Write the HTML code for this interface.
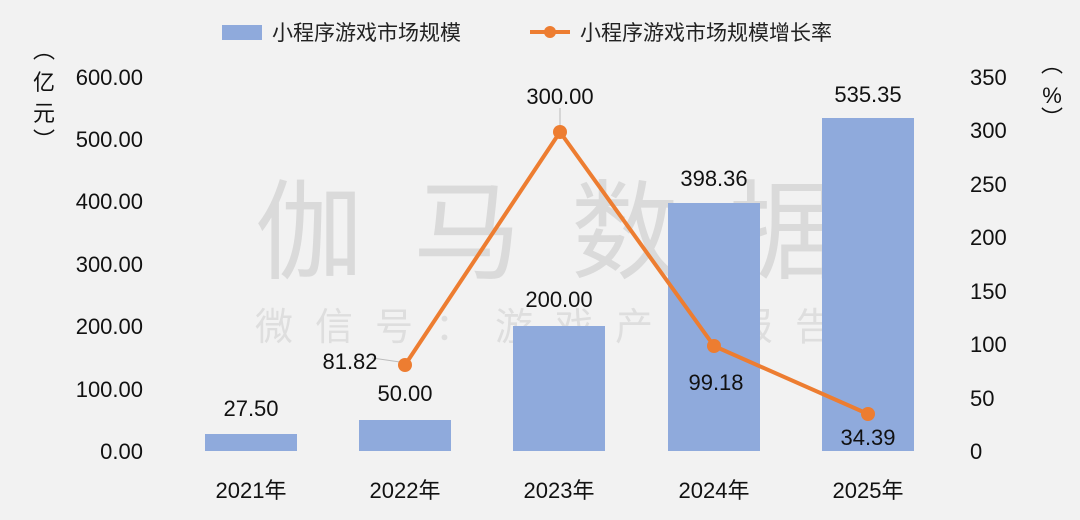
<!DOCTYPE html>
<html><head><meta charset="utf-8"><style>
html,body{margin:0;padding:0;background:#f2f2f2;}
svg{display:block;font-family:"Liberation Sans","Noto Sans CJK SC",sans-serif;}
</style></head><body>
<svg width="1080" height="520" viewBox="0 0 1080 520">
<rect width="1080" height="520" fill="#f2f2f2"/>
<!-- watermark -->
<text x="255" y="270" font-size="108" fill="#dadada" letter-spacing="50">伽马数据</text>
<text x="255" y="340" font-size="38" fill="#dedede" letter-spacing="22">微信号：游戏产业报告</text>
<!-- legend -->
<rect x="222" y="25" width="40" height="15" fill="#8faadc"/>
<text x="272" y="40" font-size="21" fill="#222">小程序游戏市场规模</text>
<line x1="530" y1="32" x2="570" y2="32" stroke="#ed7d31" stroke-width="4"/>
<circle cx="550" cy="32" r="6" fill="#ed7d31"/>
<text x="580" y="40" font-size="21" fill="#222">小程序游戏市场规模增长率</text>
<!-- left axis -->
<g font-size="22" fill="#111" text-anchor="end">
<text x="143" y="85">600.00</text>
<text x="143" y="147">500.00</text>
<text x="143" y="209">400.00</text>
<text x="143" y="272">300.00</text>
<text x="143" y="334">200.00</text>
<text x="143" y="397">100.00</text>
<text x="143" y="459">0.00</text>
</g>
<g font-size="22" fill="#111" text-anchor="middle">
<text x="44" y="58">︵</text>
<text x="44" y="90">亿</text>
<text x="44" y="121">元</text>
<text x="44" y="148">︶</text>
<text x="1052" y="72">︵</text>
<text x="1052" y="103">%</text>
<text x="1052" y="126">︶</text>
</g>
<!-- right axis -->
<g font-size="22" fill="#111" text-anchor="start">
<text x="970" y="85">350</text>
<text x="970" y="138">300</text>
<text x="970" y="192">250</text>
<text x="970" y="245">200</text>
<text x="970" y="299">150</text>
<text x="970" y="352">100</text>
<text x="970" y="406">50</text>
<text x="970" y="459">0</text>
</g>
<!-- bars -->
<g fill="#8faadc">
<rect x="205" y="434" width="92" height="17"/>
<rect x="359" y="420" width="92" height="31"/>
<rect x="513" y="326" width="92" height="125"/>
<rect x="668" y="203" width="92" height="248"/>
<rect x="822" y="118" width="92" height="333"/>
</g>
<!-- x labels -->
<g font-size="22" fill="#111" text-anchor="middle">
<text x="251" y="498">2021年</text>
<text x="405" y="498">2022年</text>
<text x="559" y="498">2023年</text>
<text x="714" y="498">2024年</text>
<text x="868" y="498">2025年</text>
</g>
<!-- bar values -->
<g font-size="22" fill="#111" text-anchor="middle">
<text x="251" y="416">27.50</text>
<text x="405" y="401">50.00</text>
<text x="559" y="307">200.00</text>
<text x="714" y="186">398.36</text>
<text x="868" y="102">535.35</text>
</g>
<!-- line -->
<line x1="372" y1="358" x2="400" y2="362" stroke="#bbb" stroke-width="1"/>
<line x1="560" y1="108" x2="560" y2="126" stroke="#bbb" stroke-width="1"/>
<polyline points="405,365 560,132 714,346 868,414" fill="none" stroke="#ed7d31" stroke-width="4" stroke-linejoin="round"/>
<g fill="#ed7d31">
<circle cx="405" cy="365" r="7"/>
<circle cx="560" cy="132" r="7"/>
<circle cx="714" cy="346" r="7"/>
<circle cx="868" cy="414" r="7"/>
</g>
<g font-size="22" fill="#111" text-anchor="middle">
<text x="350" y="369">81.82</text>
<text x="560" y="104">300.00</text>
<text x="716" y="390">99.18</text>
<text x="868" y="445">34.39</text>
</g>
</svg>
</body></html>
